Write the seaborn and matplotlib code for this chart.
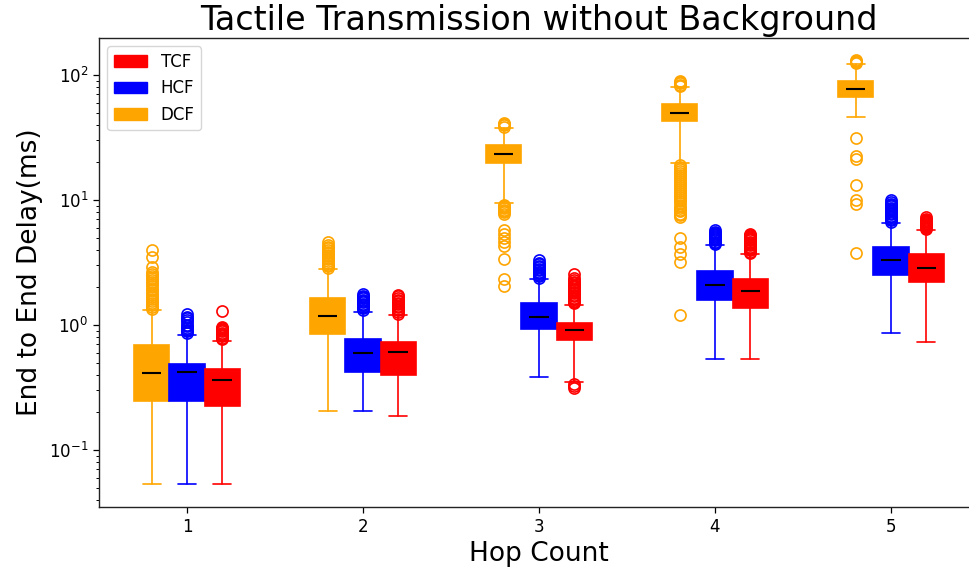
import matplotlib
matplotlib.use("Agg")
import matplotlib.pyplot as plt
import matplotlib.patches as mpatches
import seaborn as sns

hops = [1, 2, 3, 4, 5]

# summary stats (ms), one value per hop count
dcf_med = [0.415, 1.19, 23.2, 50.0, 77.3]
dcf_q1 = [0.247, 0.847, 19.9, 42.6, 67.1]
dcf_q3 = [0.692, 1.65, 27.4, 58.6, 89.5]
dcf_lo = [0.0535, 0.207, 9.5, 19.9, 46.4]
dcf_hi = [1.318, 2.79, 37.9, 80.7, 121.7]
dcf_fliers = [
    [1.35, 1.4, 1.45, 1.5, 1.56, 1.62, 1.68, 1.75, 1.82, 1.89, 1.96, 2.04, 2.12, 2.2, 2.29,
     2.38, 2.47, 2.57, 2.67, 2.9, 3.5, 3.95],
    [2.85, 2.95, 3.05, 3.15, 3.25, 3.35, 3.45, 3.55, 3.65, 3.75, 3.85, 3.95, 4.1, 4.25,
     4.4, 4.6],
    [38.5, 39.5, 40.5, 41.5, 9.2, 9.0, 8.8, 8.6, 8.4, 8.2, 8.0, 7.8,
     5.8, 5.4, 5.0, 4.6, 4.3, 3.35, 2.35, 2.05],
    [82, 84, 86, 88, 90, 19.2, 18.5, 17.8, 17.2, 16.6, 16.0, 15.4, 14.8, 14.3, 13.8, 13.3,
     12.8, 12.3, 11.8, 11.4, 11.0, 10.6, 10.2, 9.8, 9.4, 9.0, 8.7, 8.4, 8.1, 7.8, 7.55,
     7.35, 4.94, 4.23, 3.7, 3.21, 1.2],
    [124, 127, 130, 133, 31.5, 22.5, 21.5, 13.3, 10.0, 9.3, 3.74],
]

hcf_med = [0.42, 0.597, 1.15, 2.1, 3.31]
hcf_q1 = [0.247, 0.418, 0.923, 1.58, 2.51]
hcf_q3 = [0.488, 0.773, 1.51, 2.72, 4.18]
hcf_lo = [0.0535, 0.207, 0.381, 0.535, 0.857]
hcf_hi = [0.83, 1.28, 2.32, 4.37, 6.58]
hcf_fliers = [
    [0.86, 0.89, 0.92, 0.95, 0.98, 1.01, 1.05, 1.09, 1.13, 1.17, 1.22],
    [1.32, 1.36, 1.4, 1.44, 1.48, 1.52, 1.56, 1.6, 1.64, 1.68, 1.72, 1.77],
    [2.38, 2.45, 2.52, 2.59, 2.66, 2.74, 2.82, 2.9, 2.98, 3.06, 3.15, 3.3],
    [4.45, 4.55, 4.65, 4.75, 4.85, 4.95, 5.05, 5.15, 5.25, 5.35, 5.45, 5.6, 5.75],
    [6.7, 6.9, 7.1, 7.3, 7.5, 7.7, 7.9, 8.1, 8.3, 8.5, 8.7, 8.9, 9.1, 9.3, 9.6, 10.0],
]

tcf_med = [0.361, 0.612, 0.912, 1.87, 2.88]
tcf_q1 = [0.225, 0.398, 0.759, 1.38, 2.22]
tcf_q3 = [0.445, 0.731, 1.04, 2.33, 3.67]
tcf_lo = [0.0535, 0.187, 0.352, 0.535, 0.726]
tcf_hi = [0.75, 1.2, 1.45, 3.68, 5.75]
tcf_fliers = [
    [0.77, 0.79, 0.81, 0.83, 0.85, 0.87, 0.89, 0.91, 0.93, 0.95, 0.97, 1.3],
    [1.23, 1.27, 1.31, 1.35, 1.39, 1.43, 1.47, 1.51, 1.55, 1.6, 1.65, 1.7, 1.75],
    [1.49, 1.53, 1.57, 1.61, 1.65, 1.7, 1.75, 1.8, 1.85, 1.9, 1.95, 2.0, 2.05, 2.1, 2.16,
     2.22, 2.29, 2.36, 2.58, 0.335, 0.325, 0.315],
    [3.75, 3.85, 3.95, 4.05, 4.15, 4.25, 4.35, 4.45, 4.55, 4.65, 4.75, 4.85, 4.95, 5.05,
     5.15, 5.28, 5.4],
    [5.85, 5.95, 6.05, 6.15, 6.25, 6.35, 6.45, 6.55, 6.65, 6.75, 6.85, 6.95, 7.1, 7.35],
]

sns.set_style("ticks")
plt.rcParams['font.family'] = ['DejaVu Sans']
plt.rcParams['text.color'] = 'black'
plt.rcParams['axes.labelcolor'] = 'black'
plt.rcParams['xtick.color'] = 'black'
plt.rcParams['ytick.color'] = 'black'


def make_stats(med, q1, q3, lo, hi, fliers):
    return [dict(med=m, q1=a, q3=b, whislo=l, whishi=h, fliers=f)
            for m, a, b, l, h, f in zip(med, q1, q3, lo, hi, fliers)]


series = [
    ('DCF', 'orange', -0.2, make_stats(dcf_med, dcf_q1, dcf_q3, dcf_lo, dcf_hi, dcf_fliers)),
    ('HCF', 'blue', 0.0, make_stats(hcf_med, hcf_q1, hcf_q3, hcf_lo, hcf_hi, hcf_fliers)),
    ('TCF', 'red', 0.2, make_stats(tcf_med, tcf_q1, tcf_q3, tcf_lo, tcf_hi, tcf_fliers)),
]

fig = plt.figure(figsize=(9.7, 5.74), dpi=100)
ax = fig.add_axes([0.102, 0.1167, 0.9073, 0.8171])

for name, col, off, stats in series:
    pos = [h + off for h in hops]
    bp = ax.bxp(stats, positions=pos, widths=0.2, patch_artist=True, manage_ticks=False,
                boxprops=dict(facecolor=col, edgecolor=col, linewidth=1.2),
                whiskerprops=dict(color=col, linewidth=1.2),
                capprops=dict(color=col, linewidth=1.2),
                medianprops=dict(color='black', linewidth=1.5),
                flierprops=dict(marker='o', markerfacecolor='none', markeredgecolor=col,
                                markersize=8, markeredgewidth=1.2))
    # medians drawn shorter than the box, as in the original
    for line, p in zip(bp['medians'], pos):
        line.set_xdata([p - 0.055, p + 0.055])

ax.set_yscale('log')
ax.set_ylim(0.035, 198)
ax.set_xlim(0.5, 5.5)
ax.set_xticks(hops)
ax.set_xticklabels([str(h) for h in hops])
ax.tick_params(axis='both', which='major', labelsize=12, length=4.2, width=0.9)
ax.tick_params(axis='y', which='minor', length=2.4, width=0.7)
for s in ax.spines.values():
    s.set_linewidth(1.0)
    s.set_color('#222222')
ax.spines['right'].set_visible(False)

ax.set_xlabel('Hop Count', fontsize=19)
ax.set_ylabel('End to End Delay(ms)', fontsize=19)
ax.set_title('Tactile Transmission without Background', fontsize=24)

handles = [mpatches.Patch(color='red', label='TCF'),
           mpatches.Patch(color='blue', label='HCF'),
           mpatches.Patch(color='orange', label='DCF')]
ax.legend(handles=handles, loc='upper left', fontsize=12, frameon=True)

fig.savefig('out.png', dpi=100)
